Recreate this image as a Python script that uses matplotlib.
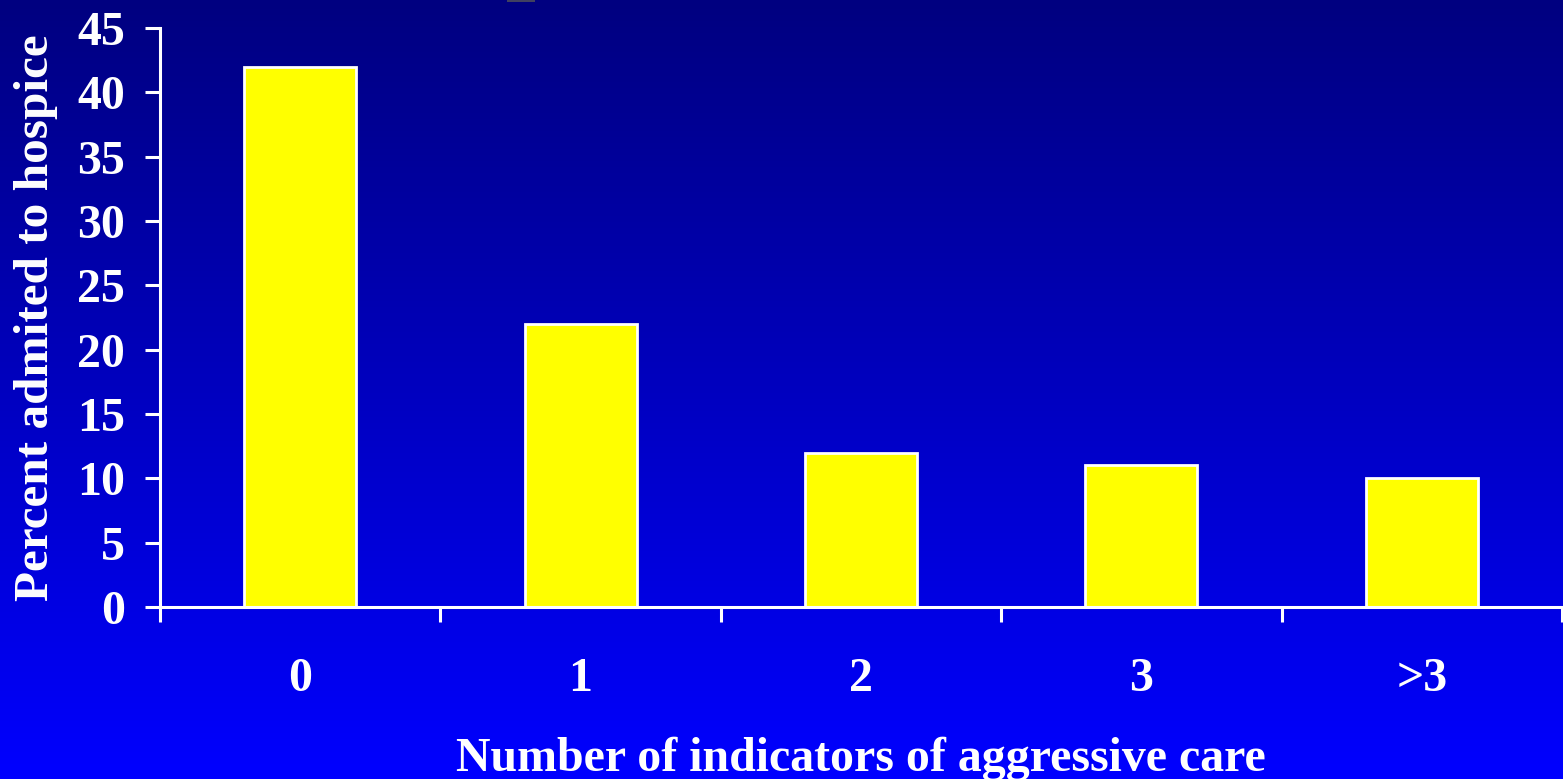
import numpy as np
import matplotlib
matplotlib.use("Agg")
import matplotlib.pyplot as plt
from matplotlib.patches import Rectangle

categories = ["0", "1", "2", "3", ">3"]
percent_hospice = [42, 22, 12, 11, 10]
y_ticks = [0, 5, 10, 15, 20, 25, 30, 35, 40, 45]

W, H, DPI = 1563, 779, 100
fig = plt.figure(figsize=(W / DPI, H / DPI), dpi=DPI)

# vertical blue gradient behind everything
bg = fig.add_axes([0, 0, 1, 1], zorder=-10)
grad = np.linspace(0, 1, 256).reshape(-1, 1)
rgb = np.zeros((256, 1, 3))
rgb[..., 2] = (128 + 127 * grad) / 255.0
bg.imshow(rgb, aspect="auto", extent=[0, 1, 0, 1], origin="upper")
bg.set_axis_off()

# thin grey sliver along the top edge
fig.patches.append(Rectangle((507 / W, 1 - 2 / H), 28 / W, 2 / H,
                             transform=fig.transFigure, facecolor="#404060",
                             edgecolor="none", zorder=5))

ax = fig.add_axes([160 / W, 1 - 607 / H, (1562 - 160) / W, (607 - 28) / H])
ax.patch.set_visible(False)

x = np.arange(len(categories))
ax.bar(x, percent_hospice, width=0.4, color="#ffff00", edgecolor="white",
       linewidth=2.0, zorder=3)

ax.set_xlim(-0.5, len(categories) - 0.5)
ax.set_ylim(0, 45)

for s in ["top", "right"]:
    ax.spines[s].set_visible(False)
for s in ["left", "bottom"]:
    ax.spines[s].set_color("white")
    ax.spines[s].set_linewidth(2.2)
    ax.spines[s].set_zorder(4)

serif = ["Liberation Serif", "DejaVu Serif"]

ax.set_yticks(y_ticks)
ax.set_yticklabels([str(v) for v in y_ticks], fontfamily=serif,
                   fontweight="bold", fontsize=34.5, color="white")
ax.tick_params(axis="y", direction="out", length=11, width=2.2, color="white", pad=14)

ax.set_xticks(x)
ax.set_xticklabels(categories, fontfamily=serif, fontweight="bold",
                   fontsize=34.5, color="white")
ax.tick_params(axis="x", which="major", length=0, pad=36)
ax.set_xticks(np.arange(-0.5, len(categories), 1.0), minor=True)
ax.tick_params(axis="x", which="minor", direction="out", length=11, width=2.2,
               color="white")

ax.set_ylabel("Percent admited to hospice", fontfamily=serif, fontweight="bold",
              fontsize=35.5, color="white", labelpad=14)
ax.set_xlabel("Number of indicators of aggressive care", fontfamily=serif,
              fontweight="bold", fontsize=34.5, color="white", labelpad=26)

fig.savefig("out.png", dpi=DPI)
